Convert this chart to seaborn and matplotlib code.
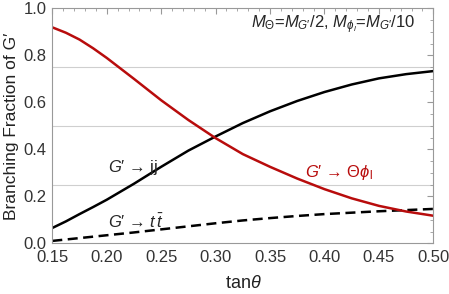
import numpy as np
import pandas as pd
import matplotlib
matplotlib.use("Agg")
import matplotlib.pyplot as plt
import seaborn as sns
from matplotlib.ticker import MultipleLocator

tan_theta = [0.15, 0.1625, 0.175, 0.1875, 0.20, 0.225, 0.25, 0.275, 0.30, 0.325, 0.35, 0.375, 0.40, 0.425, 0.45, 0.475, 0.50]
bf_jj =     [0.066, 0.094, 0.125, 0.155, 0.186, 0.254, 0.326, 0.395, 0.455, 0.512, 0.562, 0.606, 0.644, 0.676, 0.702, 0.720, 0.733]
bf_tt =     [0.011, 0.017, 0.023, 0.029, 0.035, 0.047, 0.060, 0.073, 0.086, 0.098, 0.108, 0.117, 0.125, 0.131, 0.137, 0.142, 0.147]
bf_theta =  [0.919, 0.896, 0.867, 0.830, 0.789, 0.700, 0.609, 0.525, 0.448, 0.380, 0.326, 0.276, 0.231, 0.192, 0.160, 0.136, 0.118]

sns.set_style("white")
plt.rcParams['font.family'] = ['Liberation Sans', 'DejaVu Sans']
plt.rcParams['mathtext.fontset'] = 'custom'
plt.rcParams['mathtext.rm'] = 'Liberation Sans'
plt.rcParams['mathtext.it'] = 'Liberation Sans:italic'
plt.rcParams['mathtext.bf'] = 'Liberation Sans:bold'

df = pd.DataFrame({"x": tan_theta, "jj": bf_jj, "tt": bf_tt, "th": bf_theta})

fig = plt.figure(figsize=(4.49, 2.94), dpi=100)
ax = fig.add_axes([0.1165, 0.1718, 0.8486, 0.800])

for yv in [0.25, 0.5, 0.75]:
    ax.axhline(yv, color="#cfcfcf", lw=0.8, zorder=0)

sns.lineplot(data=df, x="x", y="jj", ax=ax, color="black", lw=1.8)
sns.lineplot(data=df, x="x", y="tt", ax=ax, color="black", lw=1.8, linestyle=(0, (4, 2.2)))
sns.lineplot(data=df, x="x", y="th", ax=ax, color="#b80c0c", lw=1.8)

ax.set_xlim(0.15, 0.50)
ax.set_ylim(0.0, 1.0)
ax.xaxis.set_major_locator(MultipleLocator(0.05))
ax.xaxis.set_minor_locator(MultipleLocator(0.01))
ax.yaxis.set_major_locator(MultipleLocator(0.2))
ax.yaxis.set_minor_locator(MultipleLocator(0.05))
ax.set_xticks(ax.get_xticks())
ax.set_xticklabels([f"{v:.2f}" for v in ax.get_xticks()])
ax.set_yticks(ax.get_yticks())
ax.set_yticklabels([f"{v:.1f}" for v in ax.get_yticks()])
ax.set_xlim(0.15, 0.50)
ax.set_ylim(0.0, 1.0)
ax.tick_params(which="both", direction="in", top=True, right=True, color="#999999",
               labelcolor="#333333", labelsize=12)
ax.tick_params(axis="x", which="major", pad=5)
ax.tick_params(axis="y", which="major", pad=4)
ax.tick_params(which="major", length=4, width=0.8)
ax.tick_params(which="minor", length=2.2, width=0.6)
for s in ax.spines.values():
    s.set_color("#999999")
    s.set_linewidth(0.8)

ax.set_xlabel(r"tan$\theta$", fontsize=13, color="#222222", labelpad=7)
ax.set_ylabel("Branching Fraction of G′", fontsize=12.5, color="#222222", labelpad=3)

ax.text(0.201, 0.325, "$G$′ → jj", fontsize=12, va="center", ha="left")
ax.text(0.201, 0.091, "$G$′ → $t\\,\\bar{t}$", fontsize=12, va="center", ha="left")
ax.text(0.382, 0.30, "$G$′ → Θ$\\phi_{\\mathrm{l}}$", fontsize=12, va="center", ha="left",
        color="#b80c0c")
ax.text(0.3325, 0.93, "$M_{\\Theta}$=$M_{G′}$/2, $M_{\\phi_{l}}$=$M_{G′}$/10", fontsize=12,
        va="center", ha="left")

fig.savefig("out.png", dpi=100)
